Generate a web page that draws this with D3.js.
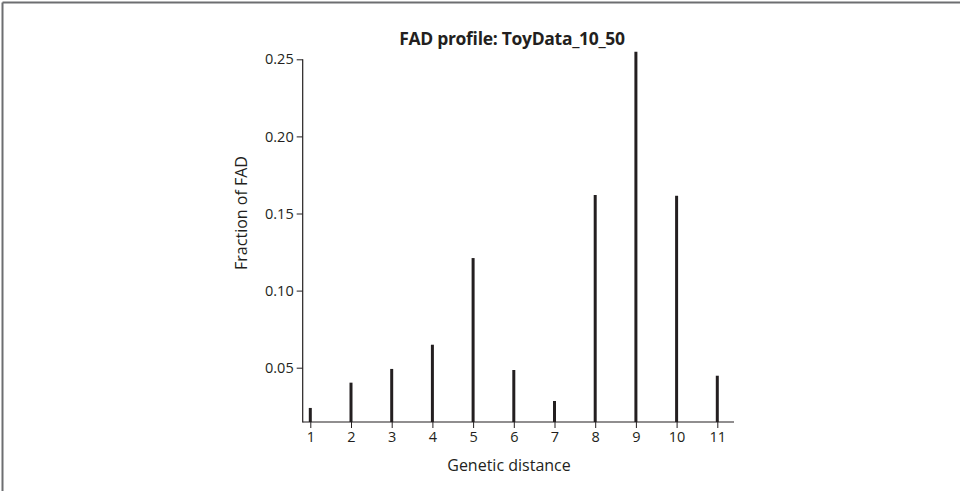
<!DOCTYPE html>
<html>
<head>
<meta charset="utf-8">
<script src="https://cdn.jsdelivr.net/npm/d3@7"></script>
<style>
  body { margin: 0; background: #fff; }
  text { font-family: "Open Sans", sans-serif; fill: #231f20; }
</style>
</head>
<body>
<div id="chart"></div>
<script>
// genetic distance categories and fraction of FAD
const distances = [1, 2, 3, 4, 5, 6, 7, 8, 9, 10, 11];
const fractions = [0.0239, 0.0403, 0.0492, 0.0649, 0.1211, 0.0485, 0.0284, 0.1620, 0.2549, 0.1615, 0.0448];
const yTicks = [0.05, 0.10, 0.15, 0.20, 0.25];
const titleText = "FAD profile: ToyData_10_50";
const xLabel = "Genetic distance";
const yLabel = "Fraction of FAD";

function drawChart(id) {
  const width = 960;
  const height = 491;

  const svg = d3
    .select(`#${id}`)
    .append("svg")
    .attr("width", width)
    .attr("height", height);

  // frame of the figure (top and left edges only visible)
  svg.append("line")
    .attr("x1", 2.5).attr("x2", width).attr("y1", 2.5).attr("y2", 2.5)
    .attr("stroke", "#6d6e71").attr("stroke-width", 2);
  svg.append("line")
    .attr("x1", 2.5).attr("x2", 2.5).attr("y1", 2.5).attr("y2", height)
    .attr("stroke", "#6d6e71").attr("stroke-width", 2);

  // scales
  const xScale = d3.scaleLinear().domain([1, 11]).range([310.3, 717.3]);
  const yScale = d3.scaleLinear().domain([0.05, 0.25]).range([367.7, 59.3]);

  const axisX0 = 302.7;
  const axisX1 = 734;
  const axisY = 422;

  // bars (spikes)
  svg.append("g")
    .selectAll("line")
    .data(distances)
    .join("line")
    .attr("x1", (d) => xScale(d))
    .attr("x2", (d) => xScale(d))
    .attr("y1", axisY)
    .attr("y2", (d, i) => yScale(fractions[i]))
    .attr("stroke", "#231f20")
    .attr("stroke-width", 3);

  // x axis
  const gx = svg.append("g").attr("transform", `translate(0,${axisY})`);
  gx.call(d3.axisBottom(xScale).tickValues(distances).tickSize(6).tickPadding(4).tickFormat(d3.format("d")));
  gx.select(".domain").remove();
  gx.append("line")
    .attr("x1", axisX0).attr("x2", axisX1)
    .attr("stroke", "#231f20").attr("stroke-width", 1.2);

  // y axis
  const gy = svg.append("g").attr("transform", `translate(${axisX0},0)`);
  gy.call(d3.axisLeft(yScale).tickValues(yTicks).tickSize(6).tickPadding(3).tickFormat(d3.format(".2f")));
  gy.select(".domain").remove();
  gy.append("line")
    .attr("y1", yScale(0.25)).attr("y2", axisY + 0.6)
    .attr("stroke", "#231f20").attr("stroke-width", 1.2);

  svg.selectAll(".tick line").attr("stroke", "#231f20").attr("stroke-width", 1);
  svg.selectAll(".tick text")
    .attr("font-family", "Open Sans, sans-serif")
    .attr("font-size", 14.5)
    .attr("fill", "#231f20");

  // title and axis labels
  svg.append("text")
    .attr("x", 512)
    .attr("y", 44.5)
    .attr("text-anchor", "middle")
    .attr("font-size", 17.5)
    .attr("font-weight", "bold")
    .attr("letter-spacing", -0.3)
    .text(titleText);

  svg.append("text")
    .attr("x", 509)
    .attr("y", 470.5)
    .attr("text-anchor", "middle")
    .attr("font-size", 16)
    .text(xLabel);

  svg.append("text")
    .attr("transform", `translate(247,213) rotate(-90)`)
    .attr("text-anchor", "middle")
    .attr("font-size", 16)
    .text(yLabel);
}

document.addEventListener("DOMContentLoaded", function () {
  drawChart("chart");
});
</script>
</body>
</html>
